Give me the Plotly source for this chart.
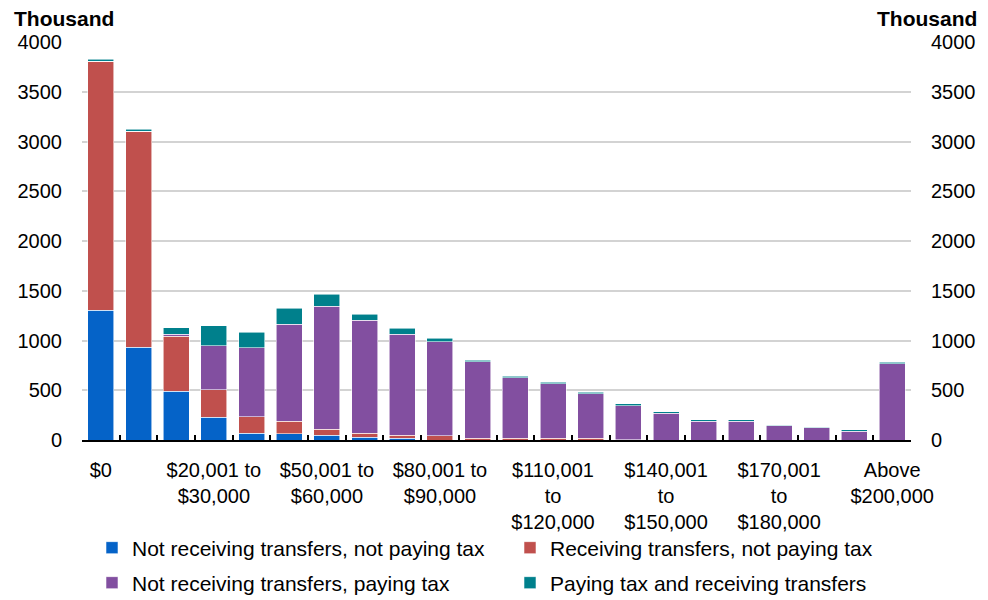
import plotly.graph_objects as go

categories = ["$0", "$1 to $10,000", "$10,001 to $20,000", "$20,001 to $30,000",
              "$30,001 to $40,000", "$40,001 to $50,000", "$50,001 to $60,000",
              "$60,001 to $70,000", "$70,001 to $80,000", "$80,001 to $90,000",
              "$90,001 to $100,000", "$100,001 to $110,000", "$110,001 to $120,000",
              "$120,001 to $130,000", "$130,001 to $140,000", "$140,001 to $150,000",
              "$150,001 to $160,000", "$160,001 to $170,000", "$170,001 to $180,000",
              "$180,001 to $190,000", "$190,001 to $200,000", "Above $200,000"]

tick_categories = ["$0", "$20,001 to $30,000", "$50,001 to $60,000", "$80,001 to $90,000",
                   "$110,001 to $120,000", "$140,001 to $150,000", "$170,001 to $180,000",
                   "Above $200,000"]
tick_labels = ["$0", "$20,001 to<br>$30,000", "$50,001 to<br>$60,000", "$80,001 to<br>$90,000",
               "$110,001<br>to<br>$120,000", "$140,001<br>to<br>$150,000",
               "$170,001<br>to<br>$180,000", "Above<br>$200,000"]

not_recv_not_pay = [1305, 930, 490, 230, 68, 64, 47, 27, 20, 0, 0, 0, 0, 0, 0, 0, 0, 0, 0, 0, 0, 0]
recv_not_pay = [2500, 2175, 555, 277, 164, 124, 60, 40, 30, 45, 20, 20, 20, 20, 3, 0, 0, 0, 0, 0, 0, 0]
not_recv_pay = [0, 0, 20, 440, 693, 977, 1235, 1138, 1014, 940, 767, 606, 545, 445, 341, 268, 188, 188, 144, 124, 87, 766]
pay_and_recv = [20, 20, 65, 200, 160, 157, 121, 60, 60, 40, 16, 17, 17, 17, 21, 16, 16, 16, 3, 3, 17, 17]

series = [
    ("Not receiving transfers, not paying tax", not_recv_not_pay, "#0563C8"),
    ("Receiving transfers, not paying tax", recv_not_pay, "#C0504D"),
    ("Not receiving transfers, paying tax", not_recv_pay, "#824FA0"),
    ("Paying tax and receiving transfers", pay_and_recv, "#00808C"),
]

FONT = "Liberation Sans, Arial, sans-serif"

# figure is offset by the page's 8px body margin, so size is reduced accordingly
W, H = 980, 592
ML, MR, MT, MB = 74, 77, 34, 160
PW = W - ML - MR
PH = H - MT - MB

def px_x(page_x):
    return (page_x - 8 - ML) / PW

def px_y(page_y):
    return (H - MB - (page_y - 8)) / PH

legend_names = ["legend", "legend2", "legend3", "legend4"]
legend_pos = [(132, 548), (550, 548), (132, 583), (550, 583)]

fig = go.Figure()
for (name, vals, col), lg in zip(series, legend_names):
    fig.add_trace(go.Bar(x=categories, y=vals, name=name, legend=lg,
                         marker=dict(color=col, line=dict(color="rgba(255,255,255,0.7)", width=0.8))))

# invisible trace to carry the secondary axes (boundary ticks and right labels)
fig.add_trace(go.Scatter(x=[0], y=[0], xaxis="x2", yaxis="y2", mode="markers",
                         marker=dict(opacity=0), showlegend=False, hoverinfo="skip"))

legends = {}
for lg, (tx, ty) in zip(legend_names, legend_pos):
    legends[lg] = dict(x=px_x(tx - 40), xanchor="left", y=px_y(ty), yanchor="middle",
                       font=dict(size=21, family=FONT), bgcolor="rgba(0,0,0,0)",
                       borderwidth=0, itemwidth=30)

n = len(categories)
fig.update_layout(
    width=W, height=H,
    margin=dict(l=ML, r=MR, t=MT, b=MB, autoexpand=False),
    paper_bgcolor="white", plot_bgcolor="white",
    barmode="stack", bargap=0.31,
    font=dict(family=FONT, size=20, color="#000000"),
    xaxis=dict(type="category", range=[-0.5, n - 0.5], tickmode="array",
               tickvals=tick_categories, ticktext=tick_labels, ticks="",
               showgrid=False, showline=False, zeroline=False, automargin=False,
               tickfont=dict(size=20), ticklabelstandoff=16),
    xaxis2=dict(overlaying="x", anchor="y", side="bottom", range=[-0.5, n - 0.5],
                tickmode="array", tickvals=[i - 0.5 for i in range(n + 1)],
                ticks="inside", ticklen=5, tickwidth=2, tickcolor="#000000",
                showticklabels=False, showgrid=False, zeroline=False, automargin=False,
                showline=True, linecolor="#000000", linewidth=2),
    yaxis=dict(range=[0, 4000], tickvals=list(range(0, 4001, 500)),
               showgrid=True, gridcolor="#D3D3D3", gridwidth=2, automargin=False,
               zeroline=False, showline=False, ticks="", ticklabelstandoff=19,
               tickfont=dict(size=20)),
    yaxis2=dict(overlaying="y", side="right", anchor="x", range=[0, 4000],
                tickvals=list(range(0, 4001, 500)), showgrid=False, zeroline=False,
                automargin=False, showline=False, ticks="", ticklabelstandoff=19,
                tickfont=dict(size=20)),
    showlegend=True,
    annotations=[
        dict(text="<b>Thousand</b>", xref="paper", yref="paper", x=px_x(12), y=1.0,
             xanchor="left", yanchor="bottom", yshift=10, showarrow=False,
             font=dict(size=21, family=FONT)),
        dict(text="<b>Thousand</b>", xref="paper", yref="paper", x=px_x(979), y=1.0,
             xanchor="right", yanchor="bottom", yshift=10, showarrow=False,
             font=dict(size=21, family=FONT)),
    ],
    **legends,
)

fig.write_html("out.html")
